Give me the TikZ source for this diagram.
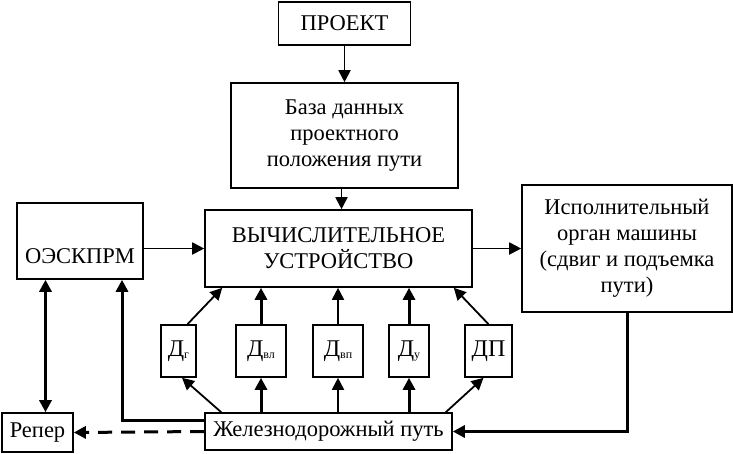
\documentclass[tikz,border=0pt]{standalone}
\usepackage{fontspec}
\setmainfont{Liberation Serif}
\usetikzlibrary{arrows.meta, calc, positioning}

\begin{document}
\begin{tikzpicture}[x=1pt, y=-1pt, font=\fontsize{22.5}{26}\selectfont]
            \tikzset{
                > = {Triangle[length=12pt, width=12pt]},
                block/.style = {rectangle, draw=black, line width=1.6pt, fill=white,
                                align=center, inner sep=0pt},
                sensor/.style = {block, minimum height=52pt, font=\fontsize{24}{26}\selectfont},
                line/.style = {->, line width=1.8pt},
                bold/.style = {->, line width=3pt}
            }
            \newcommand{\idx}[1]{\raisebox{-2pt}{\fontsize{12}{12}\selectfont #1}}
            \useasboundingbox (0,0) rectangle (733,453);

            % верхние блоки
            \node [block, minimum width=132pt, minimum height=43pt] (proj) at (344.5,23.5) {ПРОЕКТ};
            \node [block, minimum width=227pt, minimum height=105pt] (db) at (344.5,135.5)
                {База данных\\проектного\\положения пути};
            \node [block, minimum width=267pt, minimum height=77pt] (calc) at (338.5,248.5)
                {ВЫЧИСЛИТЕЛЬНОЕ\\УСТРОЙСТВО};

            % боковые блоки
            \node [block, minimum width=210pt, minimum height=127pt] (exec) at (627,248.5)
                {Исполнительный\\орган машины\\(сдвиг и подъемка\\пути)};
            \node [block, minimum width=126pt, minimum height=76pt, text height=44pt, text depth=0pt]
                (oesk) at (80,241) {ОЭСКПРМ};

            % датчики
            \node [sensor, minimum width=35pt] (dg) at (178.5,351) {Д\idx{г}};
            \node [sensor, minimum width=50pt] (dvl) at (261,351) {Д\idx{вл}};
            \node [sensor, minimum width=50pt] (dvp) at (338,351) {Д\idx{вп}};
            \node [sensor, minimum width=40pt] (du) at (409,351) {Д\idx{у}};
            \node [sensor, minimum width=47pt] (dp) at (488.5,351) {ДП};

            % нижние блоки
            \node [block, minimum width=247pt, minimum height=37pt] (rail) at (328.5,431.5) {Железнодорожный путь};
            \node [block, minimum width=71pt, minimum height=39pt] (reper) at (37.5,432.5) {Репер};

            % верхняя цепочка
            \draw [line] (proj) -- (db);
            \draw [line] ([xshift=-3pt]db.south) -- ([xshift=-3pt]db.south |- calc.north);
            \draw [line] (calc) -- (exec);
            \draw [line] (oesk.east |- calc) -- (calc.west);

            % датчики -> вычислитель
            \draw [line] ([xshift=9pt]dg.north) -- ([xshift=18pt]calc.south west);
            \draw [bold] (dvl) -- (dvl |- calc.south);
            \draw [line] (dvp) -- (dvp |- calc.south);
            \draw [bold] (du) -- (du |- calc.south);
            \draw [line] (dp.north) -- ([xshift=-19pt]calc.south east);

            % путь -> датчики
            \draw [line] ([xshift=17pt]rail.north west) -- ([xshift=3.5pt]dg.south);
            \draw [bold] (dvl.south |- rail.north) -- (dvl);
            \draw [line] (dvp.south |- rail.north) -- (dvp);
            \draw [bold] (du.south |- rail.north) -- (du);
            \draw [line] ([xshift=-7pt]rail.north east) -- ([xshift=-5pt]dp.south);

            % обратные связи
            \draw [bold] (exec.south) |- (rail.east);
            \draw [bold] ([yshift=11pt]rail.west) -| ([xshift=42pt]oesk.south);
            \draw [bold, <->] ([xshift=8pt]reper.north) -- ([xshift=8pt]reper.north |- oesk.south);
            \draw [bold, dash pattern=on 14pt off 9pt] (rail.west) -- (reper.east);

        \end{tikzpicture}
\end{document}
